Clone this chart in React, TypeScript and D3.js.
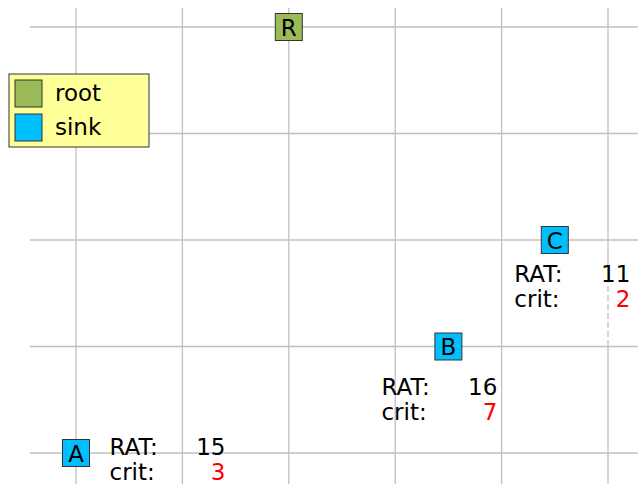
import React, { useRef, useEffect } from "react";
import * as d3 from "d3";

// grid columns / rows (data units)
const gridX = [0, 1, 2, 3, 4, 5];
const gridY = [0, 1, 2, 3, 4];

// pins on the grid
const pinNames = ["R", "A", "B", "C"];
const pinX = [2, 0, 3.5, 4.5];
const pinY = [4, 0, 1, 2];
const pinType = ["root", "sink", "sink", "sink"];
const pinRAT = [null, 15, 16, 11];
const pinCrit = [null, 3, 7, 2];

const legendItems = ["root", "sink"];

const W = 638;
const H = 484;

const App = () => {
  const svgRef = useRef<SVGSVGElement>(null);

  useEffect(() => {
    const svg = d3.select(svgRef.current);
    svg.selectAll("*").remove();

    const x = d3.scaleLinear().domain([0, 5]).range([76, 608]);
    const y = d3.scaleLinear().domain([0, 4]).range([453, 27]);
    const color = d3.scaleOrdinal<string>().domain(["root", "sink"]).range(["#9bbb59", "#00bfff"]);

    const grid = svg.append("g").attr("stroke", "#c0c0c0").attr("stroke-width", 1.3);
    grid.selectAll(".vl").data(gridX).join("line")
      .attr("x1", (d) => x(d)).attr("x2", (d) => x(d))
      .attr("y1", 8).attr("y2", H);
    grid.selectAll(".hl").data(gridY).join("line")
      .attr("y1", (d) => y(d)).attr("y2", (d) => y(d))
      .attr("x1", 30).attr("x2", W);
    // broken bit of the last column near C's label
    svg.append("line")
      .attr("x1", x(5)).attr("x2", x(5)).attr("y1", 283).attr("y2", 343)
      .attr("stroke", "#fff").attr("stroke-width", 2).attr("stroke-dasharray", "3 6");

    const pins = pinNames.map((n, i) => ({
      name: n, x: pinX[i], y: pinY[i], type: pinType[i], rat: pinRAT[i], crit: pinCrit[i],
    }));

    // label block offsets (pixels from pin centre)
    const labelOff: Record<string, [number, number]> = {
      A: [33.5, 2], B: [-67, 48], C: [-40.5, 41.5],
    };

    const font = "DejaVu Sans, sans-serif";
    const lab = svg.append("g").attr("font-family", font).attr("font-size", 23);
    pins.filter((p) => p.rat != null).forEach((p) => {
      const [dx, dy] = labelOff[p.name];
      const lx = x(p.x) + dx;
      const ly = y(p.y) + dy;
      lab.append("text").attr("x", lx).attr("y", ly).text("RAT:");
      lab.append("text").attr("x", lx).attr("y", ly + 25).text("crit:");
      lab.append("text").attr("x", lx + 116).attr("y", ly).attr("text-anchor", "end").text(String(p.rat));
      lab.append("text").attr("x", lx + 116).attr("y", ly + 25).attr("text-anchor", "end")
        .attr("fill", "#ff0000").text(String(p.crit));
    });

    const node = svg.append("g").selectAll("g").data(pins).join("g")
      .attr("transform", (d) => `translate(${x(d.x)},${y(d.y)})`);
    node.append("rect")
      .attr("x", -13.5).attr("y", -13.5).attr("width", 27).attr("height", 27)
      .attr("fill", (d) => color(d.type)).attr("stroke", "#333").attr("stroke-width", 1);
    node.append("text")
      .attr("text-anchor", "middle").attr("dy", 8.5)
      .attr("font-family", font).attr("font-size", 23)
      .text((d) => d.name);

    const lg = svg.append("g").attr("transform", "translate(9,74)");
    lg.append("rect").attr("width", 140).attr("height", 73)
      .attr("fill", "#ffff99").attr("stroke", "#333").attr("stroke-width", 1);
    const li = lg.selectAll(".li").data(legendItems).join("g")
      .attr("transform", (d, i) => `translate(6,${6 + i * 34})`);
    li.append("rect").attr("width", 27).attr("height", 27)
      .attr("fill", (d) => color(d)).attr("stroke", "#333").attr("stroke-width", 1);
    li.append("text").attr("x", 40).attr("y", 21)
      .attr("font-family", font).attr("font-size", 23)
      .text((d) => d);
  }, []);

  return (
    <svg ref={svgRef} width={W} height={H}
      style={{ position: "absolute", left: 0, top: 0, background: "#fff" }} />
  );
};

export default App;
